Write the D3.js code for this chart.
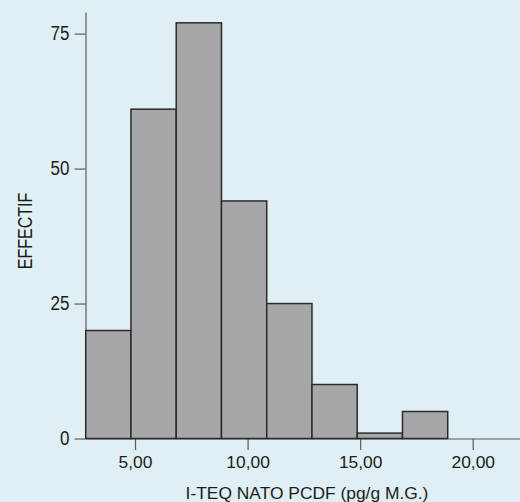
<!DOCTYPE html>
<html>
<head>
<meta charset="utf-8">
<script src="https://cdn.jsdelivr.net/npm/d3@7"></script>
<style>
  html, body { margin: 0; padding: 0; background: #dfeff3; }
  svg { display: block; }
</style>
</head>
<body>
<div id="chart"></div>
<script>
// Histogram of I-TEQ NATO PCDF concentrations (pg/g M.G.)
const binEdges = [2.81, 4.82, 6.83, 8.84, 10.85, 12.86, 14.87, 16.88, 18.89];
const counts = [20, 61, 77, 44, 25, 10, 1, 5];
const xTicks = [5, 10, 15, 20];
const yTicks = [0, 25, 50, 75];
const xTitle = "I-TEQ NATO PCDF (pg/g M.G.)";
const yTitle = "EFFECTIF";

const W = 520, H = 502;
const bins = counts.map((c, i) => ({ x0: binEdges[i], x1: binEdges[i + 1], n: c }));

const svg = d3.select("#chart").append("svg")
  .attr("width", W).attr("height", H);

svg.append("rect").attr("width", W).attr("height", H).attr("fill", "#dfeff3");

const x = d3.scaleLinear().domain([2.8, 22.1]).range([85.5, 520]);
const y = d3.scaleLinear().domain([0, 79]).range([438.5, 12]);

const frLocale = d3.formatLocale({ decimal: ",", thousands: ".", grouping: [3], currency: ["", " €"] });
const fmtX = frLocale.format(".2f");

const font = "'Liberation Sans', Arial, Helvetica, sans-serif";
const axisColor = "#5a5a5a";
const textColor = "#1c1c1c";

// X axis
const gx = svg.append("g")
  .attr("transform", `translate(0,${y(0)})`)
  .call(d3.axisBottom(x).tickValues(xTicks).tickFormat(fmtX)
    .tickSize(11.5).tickSizeOuter(0).tickPadding(6));
gx.select(".domain").attr("stroke", axisColor).attr("stroke-width", 1.2);
gx.selectAll(".tick line").attr("stroke", axisColor).attr("stroke-width", 1.2);
gx.selectAll(".tick text")
  .attr("font-family", font).attr("font-size", 17.4).attr("fill", textColor);

// Y axis (narrow lettering)
const gy = svg.append("g")
  .attr("transform", `translate(${x.range()[0]},0)`)
  .call(d3.axisLeft(y).tickValues(yTicks).tickSize(11).tickSizeOuter(0).tickPadding(5));
gy.select(".domain").attr("stroke", axisColor).attr("stroke-width", 1.2);
gy.selectAll(".tick line").attr("stroke", axisColor).attr("stroke-width", 1.2);
gy.selectAll(".tick text")
  .attr("font-family", font).attr("font-size", 19.5).attr("fill", textColor)
  .each(function () {
    const w = this.getComputedTextLength();
    d3.select(this).attr("textLength", w * 0.87).attr("lengthAdjust", "spacingAndGlyphs");
  });

// Bars
svg.append("g").selectAll("rect")
  .data(bins)
  .join("rect")
  .attr("x", d => x(d.x0))
  .attr("y", d => y(d.n))
  .attr("width", d => x(d.x1) - x(d.x0))
  .attr("height", d => y(0) - y(d.n))
  .attr("fill", "#a7a7aa")
  .attr("stroke", "#2b2b2b")
  .attr("stroke-width", 1.5);

// Axis titles
svg.append("text")
  .attr("x", 307).attr("y", 498.5)
  .attr("text-anchor", "middle")
  .attr("font-family", font).attr("font-size", 17.4).attr("fill", textColor)
  .text(xTitle);

const yt = svg.append("text")
  .attr("transform", "translate(31.5,231) rotate(-90)")
  .attr("text-anchor", "middle")
  .attr("font-family", font).attr("font-size", 19.5).attr("fill", textColor)
  .text(yTitle);
yt.attr("textLength", yt.node().getComputedTextLength() * 0.82)
  .attr("lengthAdjust", "spacingAndGlyphs");
</script>
</body>
</html>
